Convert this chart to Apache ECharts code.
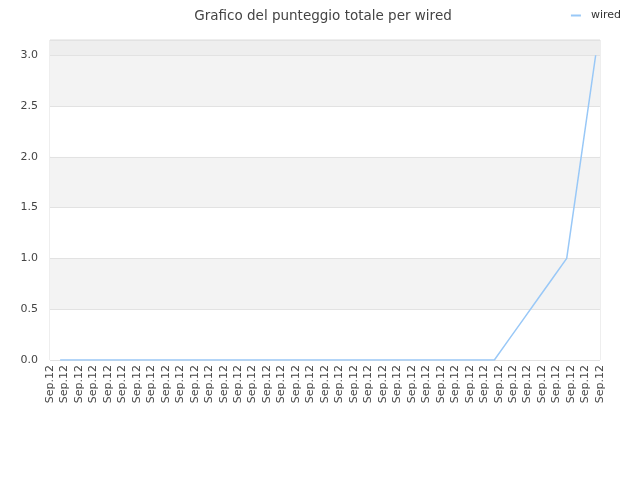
<!DOCTYPE html>
<html>
<head>
<meta charset="utf-8">
<script src="https://cdn.jsdelivr.net/npm/echarts@6/dist/echarts.min.js"></script>
<style>html,body{margin:0;padding:0;background:#fff}#c{width:640px;height:480px}</style>
</head>
<body>
<div id="c"></div>
<script>
var categories = ['Sep.12','Sep.12','Sep.12','Sep.12','Sep.12','Sep.12','Sep.12','Sep.12','Sep.12','Sep.12',
  'Sep.12','Sep.12','Sep.12','Sep.12','Sep.12','Sep.12','Sep.12','Sep.12','Sep.12','Sep.12',
  'Sep.12','Sep.12','Sep.12','Sep.12','Sep.12','Sep.12','Sep.12','Sep.12','Sep.12','Sep.12',
  'Sep.12','Sep.12','Sep.12','Sep.12','Sep.12','Sep.12','Sep.12','Sep.12','Sep.12'];
var xPositions = [0.7,1.7,2.7,3.7,4.7,5.7,6.7,7.7,8.7,9.7,10.7,11.7,12.7,13.7,14.7,15.7,16.7,17.7,18.7,19.7,
  20.7,21.7,22.7,23.7,24.7,25.7,26.7,27.7,28.7,29.7,30.7,31.7,32.7,33.7,34.7,35.7,36.7,37.7];
var wiredValues = [0,0,0,0,0,0,0,0,0,0,0,0,0,0,0,0,0,0,0,0,
  0,0,0,0,0,0,0,0,0,0,0,0.2,0.4,0.6,0.8,1.0,2.0,3.0];

var chart = echarts.init(document.getElementById('c'));
var seriesData = xPositions.map(function (x, i) { return [x, wiredValues[i]]; });
chart.setOption({
  animation: false,
  textStyle: { fontFamily: 'DejaVu Sans' },
  title: {
    text: 'Grafico del punteggio totale per wired',
    left: 318, textAlign: 'center', top: 4,
    textStyle: { fontSize: 13.5, fontWeight: 'normal', color: '#444', fontFamily: 'DejaVu Sans' }
  },
  legend: {
    right: 14, top: 5,
    itemWidth: 10, itemHeight: 2, itemGap: 10,
    icon: 'rect',
    textStyle: { fontSize: 11, color: '#333', fontFamily: 'DejaVu Sans', padding: [0, 0, 0, 5] },
    data: ['wired']
  },
  grid: { left: 50, right: 40, top: 40, bottom: 120, show: true, borderColor: '#dddddd', borderWidth: 1, containLabel: false },
  xAxis: {
    type: 'value', min: 0, max: categories.length - 1, interval: 1,
    axisLine: { show: false }, axisTick: { show: false }, splitLine: { show: false },
    axisLabel: {
      rotate: 90, fontSize: 11, color: '#444', margin: 5,
      showMinLabel: true, showMaxLabel: true,
      formatter: function (v) { return categories[Math.round(v)]; }
    }
  },
  yAxis: {
    type: 'value', min: 0, max: 3.15, interval: 0.5,
    axisLine: { show: false }, axisTick: { show: false },
    axisLabel: { fontSize: 11, color: '#444', margin: 12, showMaxLabel: false,
      formatter: function (v) { return v.toFixed(1); } },
    splitLine: { show: true, lineStyle: { color: '#e2e2e2', width: 1 } },
    splitArea: { show: true, areaStyle: { color: ['#ffffff','#f3f3f3','#ffffff','#f3f3f3','#ffffff','#f3f3f3','#eeeeee'] } }
  },
  series: [{
    name: 'wired', type: 'line', data: seriesData,
    showSymbol: false, symbol: 'none',
    lineStyle: { color: '#99c8f7', width: 1.5 },
    itemStyle: { color: '#99c8f7' }
  }]
});
</script>
</body>
</html>
